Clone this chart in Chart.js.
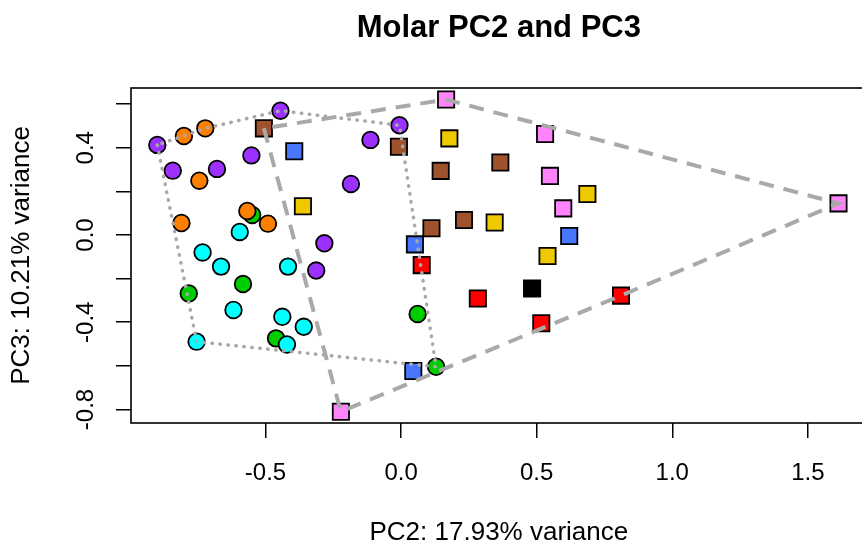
<!DOCTYPE html>
<html>
<head>
<meta charset="utf-8">
<script src="https://cdn.jsdelivr.net/npm/chart.js@4"></script>
<style>
  html, body { margin: 0; padding: 0; background: #fff; overflow: hidden; }
  #wrap { width: 880px; height: 548px; }
</style>
</head>
<body>
<div id="wrap"><canvas id="myChart" width="880" height="548"></canvas></div>
<script>
// PC2 / PC3 scores, circle groups
const purpleCircles = [[-0.445, 0.570], [-0.899, 0.413], [-0.552, 0.365], [-0.842, 0.295], [-0.679, 0.303],
    [-0.006, 0.503], [-0.113, 0.436], [-0.185, 0.234], [-0.283, -0.038], [-0.313, -0.163]];
const orangeCircles = [[-0.722, 0.489], [-0.801, 0.454], [-0.744, 0.249], [-0.567, 0.110], [-0.491, 0.052], [-0.810, 0.055]];
const greenCircles = [[-0.549, 0.092], [-0.583, -0.225], [-0.783, -0.268], [-0.461, -0.474], [0.061, -0.362], [0.129, -0.604]];
const cyanCircles = [[-0.595, 0.014], [-0.732, -0.080], [-0.664, -0.145], [-0.417, -0.145], [-0.618, -0.344],
    [-0.438, -0.375], [-0.359, -0.421], [-0.754, -0.489], [-0.421, -0.502]];

// square groups
const brownSquares = [[-0.506, 0.489], [-0.008, 0.405], [0.146, 0.294], [0.366, 0.332], [0.112, 0.031], [0.232, 0.069]];
const blueSquares = [[-0.394, 0.384], [0.051, -0.043], [0.620, -0.005], [0.045, -0.624]];
const goldSquares = [[-0.362, 0.132], [0.178, 0.443], [0.345, 0.057], [0.687, 0.188], [0.540, -0.096]];
const pinkSquares = [[0.166, 0.621], [0.531, 0.463], [0.549, 0.271], [0.598, 0.122], [1.613, 0.145], [-0.222, -0.810]];
const redSquares = [[0.076, -0.138], [0.283, -0.291], [0.517, -0.405], [0.811, -0.278]];
const blackSquares = [[0.483, -0.245]];

const xTicks = [-0.5, 0, 0.5, 1, 1.5];
const yTicks = [-0.8, -0.6, -0.4, -0.2, 0, 0.2, 0.4, 0.6];
const yLabelled = [-0.8, -0.4, 0, 0.4];

const titulo = 'Molar PC2 and PC3';
const xTitulo = 'PC2: 17.93% variance';
const yTitulo = 'PC3: 10.21% variance';

const fonte = '"Liberation Sans", Arial, Helvetica, sans-serif';
const cinza = '#A9A9A9';

const toXY = arr => arr.map(([x, y]) => ({x, y}));

// convex hull (monotone chain), closed back onto the first vertex
const convexHull = arr => {
    const p = toXY(arr).sort((a, b) => a.x - b.x || a.y - b.y);
    const cross = (o, a, b) => (a.x - o.x) * (b.y - o.y) - (a.y - o.y) * (b.x - o.x);
    const lower = [];
    const upper = [];
    for (const pt of p) {
        while (lower.length >= 2 && cross(lower[lower.length - 2], lower[lower.length - 1], pt) <= 0) lower.pop();
        lower.push(pt);
    }
    for (const pt of p.slice().reverse()) {
        while (upper.length >= 2 && cross(upper[upper.length - 2], upper[upper.length - 1], pt) <= 0) upper.pop();
        upper.push(pt);
    }
    lower.pop();
    upper.pop();
    const hull = lower.concat(upper);
    hull.push(hull[0]);
    return hull;
};

const circles = [purpleCircles, orangeCircles, greenCircles, cyanCircles].flat();
const squares = [brownSquares, blueSquares, goldSquares, pinkSquares, redSquares, blackSquares].flat();

// bottom to top drawing order
const grupos = [
    {data: greenCircles, cor: '#00CD00', forma: 'circle'},
    {data: purpleCircles, cor: '#9B30FF', forma: 'circle'},
    {data: orangeCircles, cor: '#FF7F00', forma: 'circle'},
    {data: cyanCircles, cor: '#00FFFF', forma: 'circle'},
    {data: brownSquares, cor: '#A0522D', forma: 'rect'},
    {data: blueSquares, cor: '#4876FF', forma: 'rect'},
    {data: goldSquares, cor: '#EEC900', forma: 'rect'},
    {data: pinkSquares, cor: '#FF83FA', forma: 'rect'},
    {data: redSquares, cor: '#FF0000', forma: 'rect'},
    {data: blackSquares, cor: '#000000', forma: 'rect'},
];

const pontos = grupos.map((g, i) => ({
    data: toXY(g.data),
    pointStyle: g.forma,
    pointRadius: g.forma === 'circle' ? 8.3 : 11.5,
    pointBackgroundColor: g.cor,
    pointBorderColor: '#000',
    pointBorderWidth: 1.8,
    showLine: false,
    order: 20 - i,
}));

const contornos = [
    {
        data: convexHull(circles),
        showLine: true,
        pointRadius: 0,
        borderColor: cinza,
        borderWidth: 3.5,
        borderDash: [0.5, 7.5],
        borderCapStyle: 'round',
        fill: false,
        order: 1,
    },
    {
        data: convexHull(squares),
        showLine: true,
        pointRadius: 0,
        borderColor: cinza,
        borderWidth: 4,
        borderDash: [15, 10],
        borderCapStyle: 'butt',
        fill: false,
        order: 0,
    },
];

// frame around the plot region plus the main title
const moldura = {
    id: 'moldura',
    afterDraw(chart) {
        const {ctx, chartArea: a} = chart;
        ctx.save();
        ctx.strokeStyle = '#000';
        ctx.lineWidth = 1.6;
        ctx.strokeRect(a.left, a.top, a.right - a.left, a.bottom - a.top);
        ctx.fillStyle = '#000';
        ctx.font = 'bold 31px ' + fonte;
        ctx.textAlign = 'center';
        ctx.textBaseline = 'middle';
        ctx.fillText(titulo, (a.left + a.right) / 2, 28);
        ctx.restore();
    }
};

const ctx = document.getElementById('myChart').getContext('2d');
const myChart = new Chart(ctx, {
    type: 'scatter',
    data: {datasets: [...contornos, ...pontos]},
    options: {
        responsive: false,
        devicePixelRatio: 1,
        animation: false,
        events: [],
        layout: {padding: {top: 88, right: 7.4, left: 0, bottom: 0}},
        plugins: {legend: {display: false}, tooltip: {enabled: false}},
        scales: {
            x: {
                min: -0.996,
                max: 1.717,
                afterBuildTicks: s => { s.ticks = xTicks.map(v => ({value: v})); },
                afterFit: s => { s.height = 125; },
                grid: {drawOnChartArea: false, drawTicks: true, tickLength: 15, color: '#000', lineWidth: 1.5},
                border: {display: false},
                ticks: {
                    autoSkip: false,
                    maxRotation: 0,
                    padding: 21,
                    color: '#000',
                    font: {family: fonte, size: 24},
                    callback: v => v.toFixed(1),
                },
                title: {display: true, text: xTitulo, color: '#000', font: {family: fonte, size: 26}, padding: {top: 0, bottom: 0}},
            },
            y: {
                min: -0.862,
                max: 0.674,
                afterBuildTicks: s => { s.ticks = yTicks.map(v => ({value: v})); },
                afterFit: s => { s.width = 131; },
                grid: {drawOnChartArea: false, drawTicks: true, tickLength: 15, color: '#000', lineWidth: 1.5},
                border: {display: false},
                ticks: {
                    autoSkip: false,
                    minRotation: 90,
                    maxRotation: 90,
                    crossAlign: 'center',
                    padding: 9,
                    color: '#000',
                    font: {family: fonte, size: 24},
                    callback: v => yLabelled.some(l => Math.abs(l - v) < 1e-6) ? v.toFixed(1) : '',
                },
                title: {display: true, text: yTitulo, color: '#000', font: {family: fonte, size: 26}, padding: {top: 6, bottom: 0}},
            },
        },
    },
    plugins: [moldura],
});
</script>
</body>
</html>
